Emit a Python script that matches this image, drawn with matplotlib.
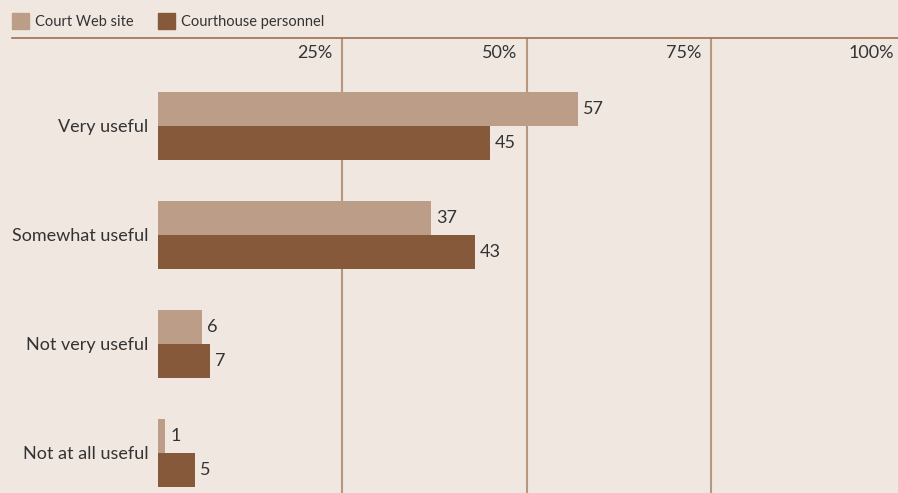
import matplotlib.pyplot as plt
import numpy as np

categories = ['Very useful', 'Somewhat useful', 'Not very useful', 'Not at all useful']
web_site = [57, 37, 6, 1]
personnel = [45, 43, 7, 5]
series_names = ['Court Web site', 'Courthouse personnel']
ticks = [25, 50, 75, 100]

bg = '#f0e7e1'
light = '#bc9e88'
dark = '#87593b'
grid_c = '#b8977f'
text_c = '#333333'

plt.rcParams['font.family'] = ['Lato', 'DejaVu Sans']

fig = plt.figure(figsize=(8.98, 4.93), dpi=100, facecolor=bg)
ax = fig.add_axes([158 / 898, 0, 737 / 898, 1 - 38 / 493])
ax.set_facecolor(bg)

y = np.arange(len(categories))
h = 0.312
ax.barh(y - h / 2, web_site, height=h, color=light, zorder=2)
ax.barh(y + h / 2, personnel, height=h, color=dark, zorder=2)

for yi, v in zip(y, web_site):
    ax.text(v + 0.7, yi - h / 2, str(v), va='center', ha='left', fontsize=13, color=text_c)
for yi, v in zip(y, personnel):
    ax.text(v + 0.7, yi + h / 2, str(v), va='center', ha='left', fontsize=13, color=text_c)

ax.set_xlim(0, 100)
ax.set_ylim(3.367, -0.807)

for t in ticks:
    # the 100% line sits just past the right edge in the original
    if t < 100:
        ax.axvline(t, color=grid_c, lw=1.5, zorder=1)
        xl = t - 1.3
    else:
        xl = t - 0.2
    ax.text(xl, -0.67, f'{t}%', ha='right', va='center', fontsize=13, color=text_c)

ax.set_yticks(y)
ax.set_yticklabels(categories, fontsize=13, color=text_c)
ax.tick_params(axis='y', length=0, pad=7)
ax.set_xticks([])
for s in ax.spines.values():
    s.set_visible(False)

# top rule
fig.add_artist(plt.Line2D([12 / 898, 1], [1 - 38 / 493] * 2, color='#a0704f', lw=1.2,
                          transform=fig.transFigure))

# legend
for x0, col, name in [(12, light, series_names[0]), (158, dark, series_names[1])]:
    fig.add_artist(plt.Rectangle((x0 / 898, 1 - 29 / 493), 17 / 898, 16 / 493,
                                 color=col, transform=fig.transFigure))
    fig.text((x0 + 23) / 898, 1 - 22 / 493, name, ha='left', va='center',
             fontsize=10.5, color=text_c)

fig.savefig('out.png', dpi=100, facecolor=bg)
